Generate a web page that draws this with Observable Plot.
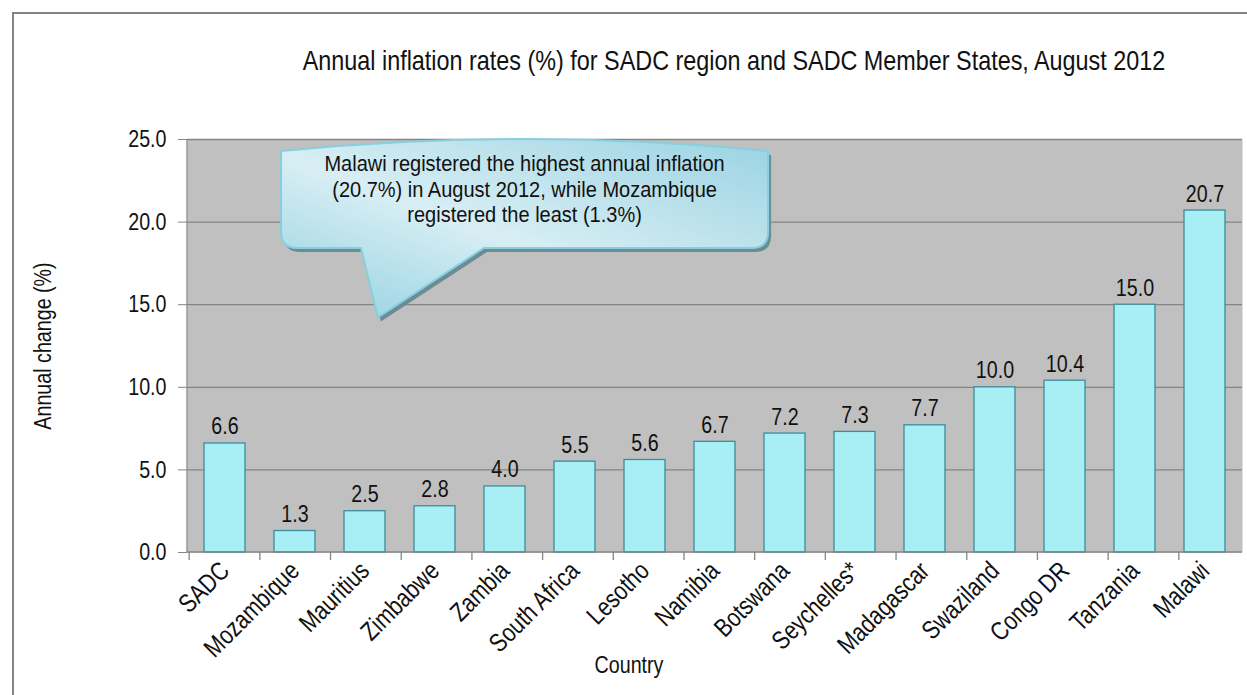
<!DOCTYPE html>
<html>
<head>
<meta charset="utf-8">
<script src="https://cdn.jsdelivr.net/npm/d3@7"></script>
<script src="https://cdn.jsdelivr.net/npm/@observablehq/plot@0.6"></script>
<style>
  html, body { margin: 0; padding: 0; background: #fff; width: 1247px; height: 695px; overflow: hidden; }
  body { position: relative; font-family: "Liberation Sans", Arial, sans-serif; }
  #frame { position: absolute; left: 12px; top: 12px; width: 1300px; height: 750px; border: 2px solid #858585; box-sizing: border-box; }
  #title { position: absolute; left: 0; width: 1468px; top: 42px; text-align: center; font-size: 28.5px; line-height: 36px; color: #111; white-space: nowrap; transform: scaleX(0.82); transform-origin: 734px 0; }
  #chart { position: absolute; left: 0; top: 0; }
</style>
</head>
<body>
<div id="frame"></div>
<div id="title">Annual inflation rates (%) for SADC region and SADC Member States, August 2012</div>
<div id="chart"></div>
<script>
const countries = ["SADC","Mozambique","Mauritius","Zimbabwe","Zambia","South Africa","Lesotho","Namibia","Botswana","Seychelles*","Madagascar","Swaziland","Congo DR","Tanzania","Malawi"];
const inflation = [6.6,1.3,2.5,2.8,4.0,5.5,5.6,6.7,7.2,7.3,7.7,10.0,10.4,15.0,20.7];
const yTicks = [0,5,10,15,20,25];
const yLabel = "Annual change (%)";
const xLabel = "Country";
const calloutLines = ["Malawi registered the highest annual inflation","(20.7%) in August 2012, while Mozambique","registered the least (1.3%)"];

const data = countries.map((c, i) => ({country: c, value: inflation[i]}));
const FONT = '"Liberation Sans", Arial, sans-serif';
const NARROW = 0.82;   // horizontal squeeze to mimic a narrow face
const PAD = 0.42;

// boundary ticks below the category axis + axis lines
function boundaryTicks(index, scales, values, dims) {
  const x = scales.x;
  const step = x.bandwidth() / (1 - PAD);
  const g = d3.create("svg:g").attr("stroke", "#858585").attr("stroke-width", 1.3);
  const y0 = dims.height - dims.marginBottom;
  for (let i = 0; i <= countries.length; i++) {
    const xp = x(countries[0]) - step * PAD / 2 + i * step;
    g.append("line").attr("x1", xp).attr("x2", xp).attr("y1", y0).attr("y2", y0 + 8);
  }
  g.append("line").attr("x1", dims.marginLeft).attr("x2", dims.width - dims.marginRight).attr("y1", y0).attr("y2", y0);
  g.append("line").attr("x1", dims.marginLeft).attr("x2", dims.marginLeft).attr("y1", dims.marginTop).attr("y2", y0);
  return g.node();
}

// speech-bubble annotation, positioned in band units / data units
function callout(index, scales, values, dims) {
  const x = scales.x, y = scales.y;
  const step = x.bandwidth() / (1 - PAD);
  const x0 = x(countries[0]) - step * PAD / 2;
  const bx = f => x0 + f * step;
  const L = bx(1.30), R = bx(8.19), T = y(25.0), B = y(18.4);
  const pb1 = bx(2.43), pb2 = bx(4.17), tipX = bx(2.67), tipY = y(14.2);
  const r = 16;
  const path = `M${L},${T + 12} Q${(L + R) / 2},${T - 12} ${R},${T + 12}
    L${R},${B - r} Q${R},${B} ${R - r},${B}
    L${pb2},${B} L${tipX},${tipY} L${pb1},${B}
    L${L + r},${B} Q${L},${B} ${L},${B - r} Z`;
  const g = d3.create("svg:g");
  const defs = g.append("defs");
  const grad = defs.append("linearGradient").attr("id", "cg").attr("x1", "0").attr("y1", "1").attr("x2", "1").attr("y2", "0");
  grad.append("stop").attr("offset", "0").attr("stop-color", "#8fd0e0");
  grad.append("stop").attr("offset", "0.45").attr("stop-color", "#d8eef4");
  grad.append("stop").attr("offset", "1").attr("stop-color", "#9ad3e2");
  g.append("path").attr("d", path).attr("fill", "#6c8b93").attr("transform", "translate(3,4)");
  g.append("path").attr("d", path).attr("fill", "url(#cg)").attr("stroke", "#86cfdf").attr("stroke-width", 2);
  calloutLines.forEach((line, i) => {
    g.append("text")
      .attr("class", "callout")
      .attr("text-anchor", "middle").attr("font-size", 22).attr("fill", "#111").attr("font-family", FONT)
      .attr("transform", `translate(${(L + R) / 2},${T + 32 + i * 25.5}) scale(0.91,1)`)
      .text(line);
  });
  return g.node();
}

const chart = Plot.plot({
  width: 1247,
  height: 695,
  marginLeft: 187,
  marginRight: 5,
  marginTop: 139,
  marginBottom: 143,
  style: { fontFamily: FONT, background: "transparent", color: "#111" },
  x: { domain: countries, paddingInner: PAD, paddingOuter: PAD / 2, label: null },
  y: { domain: [0, 25], label: null },
  marks: [
    Plot.frame({ fill: "#c0c0c0", stroke: null }),
    Plot.gridY(yTicks.slice(1), { stroke: "#858585", strokeOpacity: 1, strokeWidth: 1.3 }),
    Plot.barY(data, { x: "country", y: "value", fill: "#a7eef5", stroke: "#3d8c9c", strokeWidth: 1.3 }),
    Plot.text(data, { x: "country", y: "value", text: d => d.value.toFixed(1), lineAnchor: "bottom", dy: -9, fontSize: 24, fill: "#111" }),
    Plot.axisY({ ticks: yTicks, tickFormat: d => d.toFixed(1), tickSize: 9, tickPadding: 12, fontSize: 24, stroke: "#858585", fill: "#111", label: null }),
    Plot.axisX({ tickSize: 0, tickRotate: -45, tickPadding: 14, fontSize: 26, fill: "#111", label: null }),
    boundaryTicks,
    Plot.text([yLabel], { frameAnchor: "left", textAnchor: "middle", dx: -144, rotate: -90, text: d => d, fontSize: 24, fill: "#111" }),
    Plot.text([xLabel], { frameAnchor: "bottom", textAnchor: "middle", dx: -86, dy: 120, text: d => d, fontSize: 24, fill: "#111" }),
    callout
  ]
});

// squeeze every text horizontally around its own anchor point
chart.querySelectorAll("text").forEach(t => {
  if (t.classList.contains("callout")) return;
  const tr = t.getAttribute("transform");
  if (tr) {
    t.setAttribute("transform", tr + ` scale(${NARROW},1)`);
  } else {
    const xa = +(t.getAttribute("x") || 0), ya = +(t.getAttribute("y") || 0);
    t.removeAttribute("x"); t.removeAttribute("y");
    t.setAttribute("transform", `translate(${xa},${ya}) scale(${NARROW},1)`);
  }
});
document.getElementById("chart").appendChild(chart);
</script>
</body>
</html>
